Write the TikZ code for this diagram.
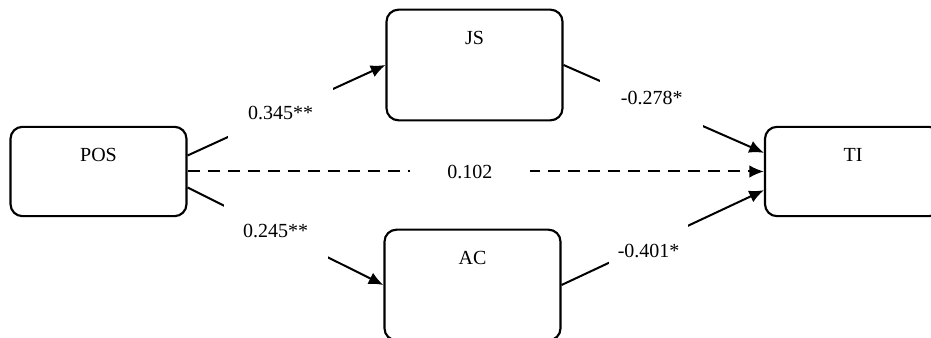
\documentclass[tikz,border=0pt]{standalone}
\usepackage{fontspec}
\setmainfont{Liberation Serif}
\usetikzlibrary{arrows.meta}

\begin{document}
\begin{tikzpicture}[x=0.75pt, y=-0.75pt, font=\fontsize{15}{18}\selectfont,
    varbox/.style={draw, line width=1.6pt, rounded corners=9pt, inner sep=0pt, minimum width=132pt, text height=26pt},
    link/.style={line width=1.5pt, -{Latex[length=11pt, width=9.5pt]}},
    coef/.style={fill=white, inner sep=0pt, minimum height=44pt}]
    \clip (0,0) rectangle (931,338);
    \node[varbox, text depth=41pt] (pos) at (98.5,171.5) {POS};
    \node[varbox, text depth=57pt] (js) at (474.5,65) {JS};
    \node[varbox, text depth=57pt] (ac) at (472.5,285) {AC};
    \node[varbox, text depth=41pt] (ti) at (853,171.5) {TI};
    \draw[link] ([yshift=12pt]pos.east) -- node[coef, minimum width=79pt, pos=.47] {0.345**} (js.west);
    \draw[link] ([yshift=-12pt]pos.east) -- node[coef, minimum width=78pt, pos=.45] {0.245**} (ac.west);
    \draw[link] (js.east) -- node[coef, minimum width=77pt, pos=.44, yshift=4pt] {-0.278*} ([yshift=14pt]ti.west);
    \draw[link] (ac.east) -- node[coef, minimum width=59pt, pos=.43, yshift=-5pt] {-0.401*} ([yshift=-14pt]ti.west);
    \draw[link, dash pattern=on 9.5pt off 5.5pt] (pos.east) -- node[coef, minimum width=90pt, minimum height=20pt, pos=.49] {0.102} (ti.west);
\end{tikzpicture}
\end{document}
